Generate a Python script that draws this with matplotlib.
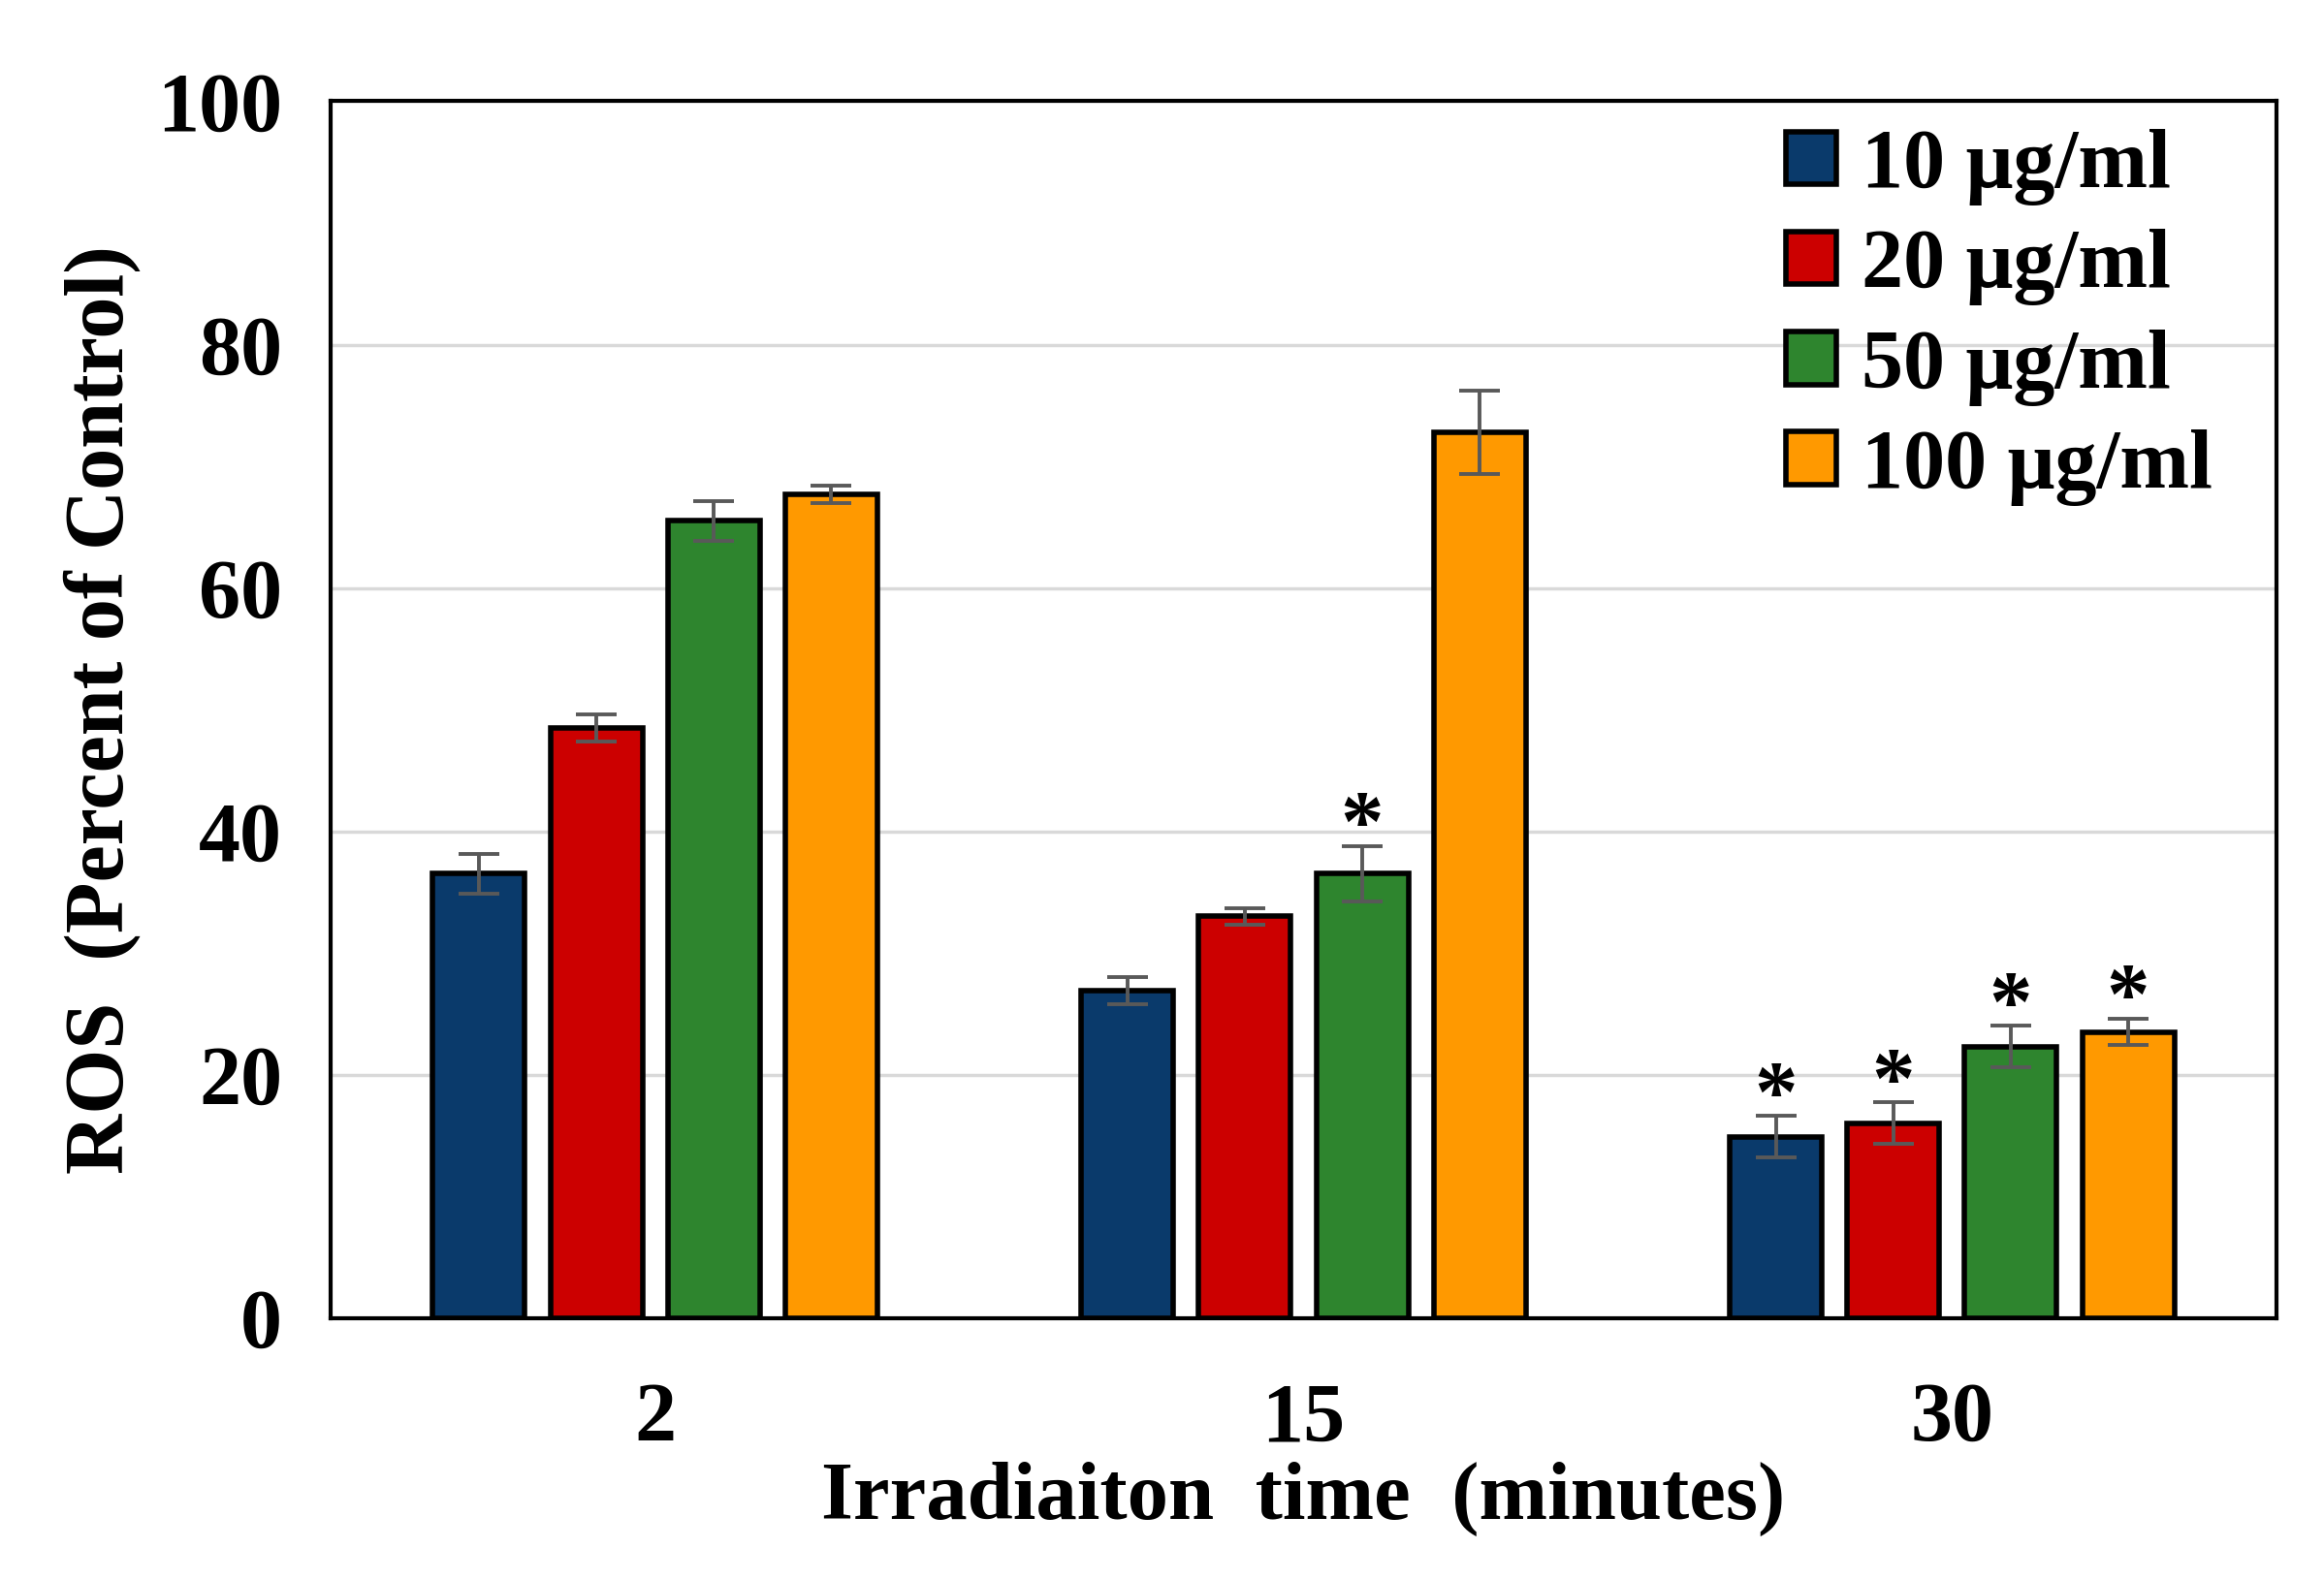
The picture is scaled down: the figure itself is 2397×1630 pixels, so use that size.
import matplotlib
matplotlib.use('Agg')
import matplotlib.pyplot as plt
import numpy as np

times = ['2', '15', '30']
doses = ['10 μg/ml', '20 μg/ml', '50 μg/ml', '100 μg/ml']
colors = ['#0a3a6b', '#cc0000', '#2e852e', '#ff9900']

ros_10 = [36.5, 26.9, 14.9]
ros_20 = [48.5, 33.0, 16.0]
ros_50 = [65.5, 36.5, 22.3]
ros_100 = [67.7, 72.8, 23.5]
err_10 = [1.6, 1.1, 1.7]
err_20 = [1.1, 0.7, 1.7]
err_50 = [1.6, 2.3, 1.7]
err_100 = [0.7, 3.4, 1.1]
star_10 = [False, False, True]
star_20 = [False, False, True]
star_50 = [False, True, True]
star_100 = [False, False, True]

values = [ros_10, ros_20, ros_50, ros_100]
errors = [err_10, err_20, err_50, err_100]
stars = [star_10, star_20, star_50, star_100]


def main():
    plt.rcParams['font.family'] = ['Liberation Serif', 'DejaVu Serif']
    plt.rcParams['font.weight'] = 'bold'

    fig = plt.figure(figsize=(23.97, 16.30), dpi=100)
    ax = fig.add_axes([0.1423, 0.1659, 0.8372, 0.7700])

    x = np.arange(len(times))
    step = 0.181
    width = 0.142
    offsets = (np.arange(len(doses)) - 1.5) * step

    for i in range(len(doses)):
        pos = x + offsets[i]
        ax.bar(pos, values[i], width, color=colors[i], edgecolor='black',
               linewidth=4, label=doses[i], zorder=3)
        ax.errorbar(pos, values[i], yerr=errors[i], fmt='none',
                    ecolor='#595959', elinewidth=2.8, capsize=15,
                    capthick=2.8, zorder=4)
        for j in range(len(times)):
            if stars[i][j]:
                ax.text(pos[j], values[i][j] + errors[i][j] - 1.8, '*',
                        ha='center', va='bottom', fontsize=64,
                        fontweight='bold', zorder=5)

    ax.set_xlim(-0.5, 2.5)
    ax.set_ylim(0, 100)
    ax.set_yticks([0, 20, 40, 60, 80, 100])
    ax.set_xticks(x)
    ax.set_xticklabels(times)
    ax.yaxis.grid(True, color='#d9d9d9', linewidth=2.5, zorder=0)
    ax.set_axisbelow(True)
    for s in ax.spines.values():
        s.set_linewidth(3)
    ax.tick_params(axis='both', length=0, labelsize=62)
    ax.tick_params(axis='y', pad=36)
    ax.tick_params(axis='x', pad=48)

    ax.set_ylabel('ROS  (Percent of Control)', fontsize=62, fontweight='bold',
                  labelpad=12)
    ax.set_xlabel('Irradiaiton  time  (minutes)', fontsize=61,
                  fontweight='bold', labelpad=2)

    ax.legend(loc='upper right', frameon=False, fontsize=62,
              handlelength=0.6, handleheight=0.6, handletextpad=0.3,
              labelspacing=0.28, borderaxespad=0.3,
              bbox_to_anchor=(0.997, 1.025))

    fig.savefig('out.png', dpi=100)


if __name__ == '__main__':
    main()
